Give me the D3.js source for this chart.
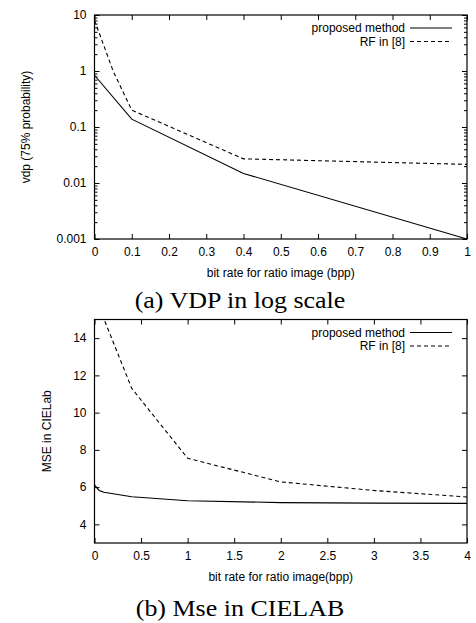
<!DOCTYPE html>
<html><head><meta charset="utf-8">
<script src="https://cdn.jsdelivr.net/npm/d3@7"></script>
<style>body{margin:0;background:#fff}svg{display:block}text{font-family:"Liberation Sans",Arial,sans-serif}text.ttl{font-family:"Liberation Serif","Times New Roman",serif}</style>
</head><body>
<script>
// Chart (a) VDP in log scale
const vdpX = [0, 0.1, 0.4, 1];
const vdpProposed = [0.84, 0.138, 0.0148, 0.001];
const vdpRfX = [0, 0.05, 0.1, 0.4, 1];
const vdpRf = [8.1, 1.0, 0.2, 0.027, 0.0215];
const vdpXTicks = [0, 0.1, 0.2, 0.3, 0.4, 0.5, 0.6, 0.7, 0.8, 0.9, 1];
const vdpYTicks = [0.001, 0.01, 0.1, 1, 10];
// Chart (b) MSE in CIELab
const mseProposedX = [0, 0.05, 0.1, 0.4, 1, 2, 3, 4];
const mseProposed = [6.12, 5.82, 5.72, 5.48, 5.27, 5.17, 5.14, 5.13];
const mseRfX = [0, 0.1, 0.4, 1, 2, 3, 4];
const mseRf = [19, 15.05, 11.3, 7.55, 6.28, 5.82, 5.47];
const mseXTicks = [0, 0.5, 1, 1.5, 2, 2.5, 3, 3.5, 4];
const mseYTicks = [4, 6, 8, 10, 12, 14];
const legendLabels = ["proposed method", "RF in [8]"];

const W = 476, H = 623;
const svg = d3.select("body").append("svg").attr("width", W).attr("height", H);

function panel(cfg) {
  const g = svg.append("g");
  const x = d3.scaleLinear().domain(cfg.xDomain).range([cfg.left, cfg.right]);
  const y = cfg.log ? d3.scaleLog().domain(cfg.yDomain).range([cfg.bottom, cfg.top])
                    : d3.scaleLinear().domain(cfg.yDomain).range([cfg.bottom, cfg.top]);
  const fmt = cfg.xFmt;
  g.append("g").attr("transform", `translate(0,${cfg.bottom})`)
    .call(d3.axisBottom(x).tickValues(cfg.xTicks).tickSizeInner(-5).tickSizeOuter(0).tickPadding(8).tickFormat(fmt));
  g.append("g").attr("transform", `translate(0,${cfg.top})`)
    .call(d3.axisTop(x).tickValues(cfg.xTicks).tickSizeInner(-5).tickSizeOuter(0).tickFormat(""));
  g.append("g").attr("transform", `translate(${cfg.left},0)`)
    .call(d3.axisLeft(y).tickValues(cfg.yTicks).tickSizeInner(-5).tickSizeOuter(0).tickPadding(8).tickFormat(cfg.yFmt));
  g.append("g").attr("transform", `translate(${cfg.right},0)`)
    .call(d3.axisRight(y).tickValues(cfg.yTicks).tickSizeInner(-5).tickSizeOuter(0).tickFormat(""));
  if (cfg.log) {
    const minor = [];
    cfg.yTicks.slice(0, -1).forEach(d => { for (let k = 2; k <= 9; k++) minor.push(d * k); });
    g.append("g").attr("transform", `translate(${cfg.left},0)`)
      .call(d3.axisLeft(y).tickValues(minor).tickSizeInner(-3).tickSizeOuter(0).tickFormat(""));
    g.append("g").attr("transform", `translate(${cfg.right},0)`)
      .call(d3.axisRight(y).tickValues(minor).tickSizeInner(-3).tickSizeOuter(0).tickFormat(""));
  }
  g.selectAll(".domain").remove();
  g.selectAll(".tick line").attr("stroke", "#000").attr("stroke-width", 1);
  g.selectAll(".tick text").attr("font-size", 12).attr("fill", "#000");
  g.append("rect").attr("x", cfg.left).attr("y", cfg.top).attr("width", cfg.right - cfg.left)
    .attr("height", cfg.bottom - cfg.top).attr("fill", "none").attr("stroke", "#000").attr("stroke-width", 1.2);
  const clipId = "clip" + cfg.id;
  svg.append("clipPath").attr("id", clipId).append("rect").attr("x", cfg.left).attr("y", cfg.top)
    .attr("width", cfg.right - cfg.left).attr("height", cfg.bottom - cfg.top);
  const line = d3.line().x(d => x(d[0])).y(d => y(d[1]));
  g.append("path").attr("clip-path", `url(#${clipId})`).datum(cfg.s1X.map((v, i) => [v, cfg.s1[i]]))
    .attr("d", line).attr("fill", "none").attr("stroke", "#000").attr("stroke-width", 1.1);
  g.append("path").attr("clip-path", `url(#${clipId})`).datum(cfg.s2X.map((v, i) => [v, cfg.s2[i]]))
    .attr("d", line).attr("fill", "none").attr("stroke", "#000").attr("stroke-width", 1.1).attr("stroke-dasharray", "4,3");
  legendLabels.forEach((lab, i) => {
    const ly = cfg.top + 13 + i * 13.5;
    g.append("text").attr("x", 405).attr("y", ly + 4).attr("text-anchor", "end").attr("font-size", 12).text(lab);
    g.append("line").attr("x1", 410).attr("x2", 452).attr("y1", ly).attr("y2", ly)
      .attr("stroke", "#000").attr("stroke-width", 1.1).attr("stroke-dasharray", i ? "4,3" : null);
  });
  g.append("text").attr("x", (cfg.left + cfg.right) / 2).attr("y", cfg.bottom + 38).attr("text-anchor", "middle")
    .attr("font-size", 12).text(cfg.xLabel);
  g.append("text").attr("transform", `translate(${cfg.yLabelX},${(cfg.top + cfg.bottom) / 2}) rotate(-90)`)
    .attr("text-anchor", "middle").attr("font-size", 12).text(cfg.yLabel);
  g.append("text").attr("class", "ttl").attr("transform", `translate(240,${cfg.titleY}) scale(1.13,1)`)
    .attr("text-anchor", "middle").attr("font-size", 23).text(cfg.title);
}

panel({id: "a", left: 94.5, right: 467, top: 15, bottom: 239, log: true,
  xDomain: [0, 1], yDomain: [0.001, 10], xTicks: vdpXTicks, yTicks: vdpYTicks,
  xFmt: d => d3.format("")(d), yFmt: d => String(+d.toPrecision(1)),
  s1X: vdpX, s1: vdpProposed, s2X: vdpRfX, s2: vdpRf,
  xLabel: "bit rate for ratio image (bpp)", yLabel: "vdp (75% probability)", yLabelX: 30,
  title: "(a) VDP in log scale", titleY: 308});

panel({id: "b", left: 94.5, right: 467, top: 319.5, bottom: 543, log: false,
  xDomain: [0, 4], yDomain: [3, 15], xTicks: mseXTicks, yTicks: mseYTicks,
  xFmt: d => d3.format("")(d), yFmt: d => String(d),
  s1X: mseProposedX, s1: mseProposed, s2X: mseRfX, s2: mseRf,
  xLabel: "bit rate for ratio image(bpp)", yLabel: "MSE in CIELab", yLabelX: 51,
  title: "(b) Mse in CIELAB", titleY: 616});
</script>
</body></html>
